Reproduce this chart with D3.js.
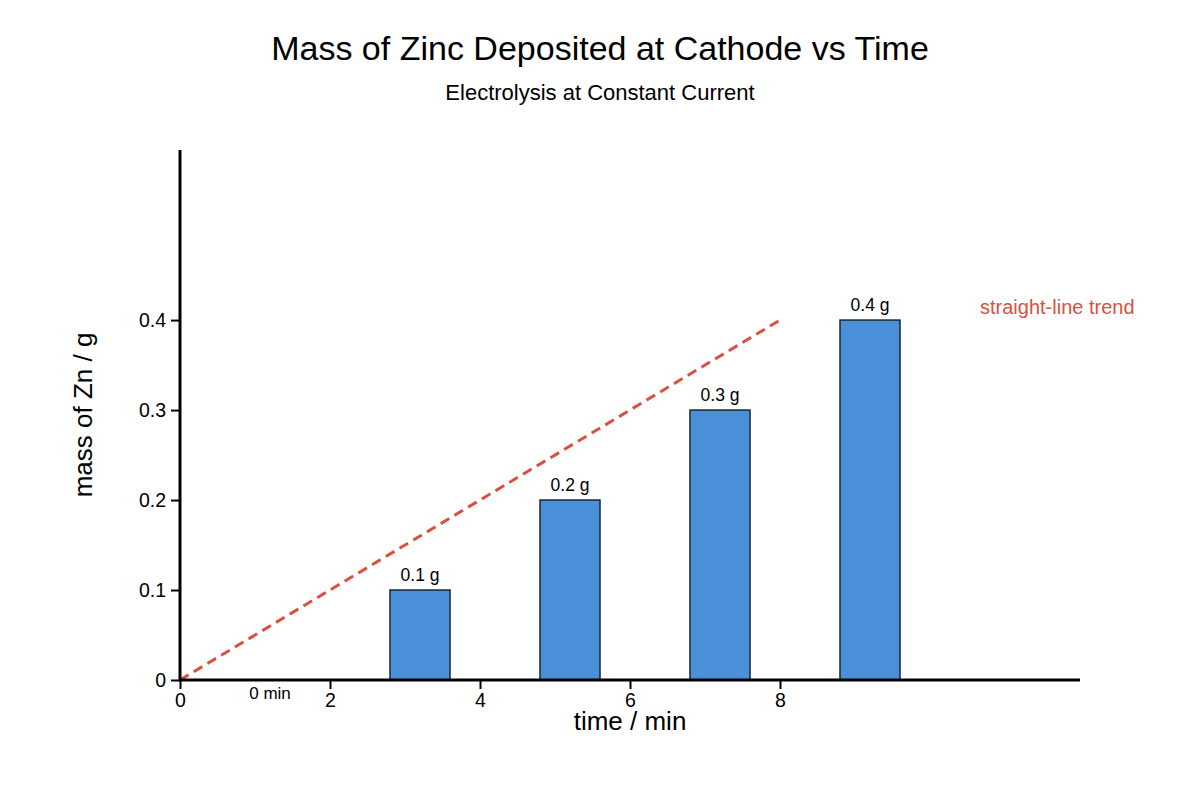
<!DOCTYPE html>
<html>
<head>
<meta charset="utf-8">
<script src="https://cdn.jsdelivr.net/npm/d3@7"></script>
<style>
  body { margin: 0; background: #fff; }
  svg { font-family: "Liberation Sans", Arial, sans-serif; }
</style>
</head>
<body>
<div id="chart"></div>
<script>
// Data
const categories = ['0 min', '2 min', '4 min', '6 min', '8 min'];
const massValues = [0, 0.1, 0.2, 0.3, 0.4];
const barLabels = ['', '0.1 g', '0.2 g', '0.3 g', '0.4 g'];
const xTicks = [0, 2, 4, 6, 8];
const yTicks = [0, 0.1, 0.2, 0.3, 0.4];
const trendTimes = [0, 8];
const trendMass = [0, 0.4];

const width = 1200;
const height = 800;
const margin = { top: 150, right: 120, bottom: 120, left: 180 };
const innerW = width - margin.left - margin.right;
const innerH = height - margin.top - margin.bottom;

const svg = d3.select('#chart')
  .append('svg')
  .attr('width', width)
  .attr('height', height);

// Titles
svg.append('text')
  .attr('x', width / 2)
  .attr('y', 60)
  .attr('text-anchor', 'middle')
  .style('font-size', '34px')
  .text('Mass of Zinc Deposited at Cathode vs Time');

svg.append('text')
  .attr('x', width / 2)
  .attr('y', 100)
  .attr('text-anchor', 'middle')
  .style('font-size', '22px')
  .text('Electrolysis at Constant Current');

const g = svg.append('g')
  .attr('transform', `translate(${margin.left},${margin.top})`);

// Scales
const x = d3.scaleLinear().domain([0, 12]).range([0, innerW]);
const y = d3.scaleLinear().domain([0, 0.589]).range([innerH, 0]);
const xBand = d3.scaleBand()
  .domain(categories)
  .range([0, innerW])
  .paddingInner(0.6)
  .paddingOuter(0.8)
  .align(0.25);

// Bars
g.selectAll('.bar')
  .data(massValues)
  .enter()
  .append('rect')
  .attr('class', 'bar')
  .attr('x', (d, i) => xBand(categories[i]))
  .attr('y', d => y(d))
  .attr('width', xBand.bandwidth())
  .attr('height', d => innerH - y(d))
  .attr('fill', '#4a90d9')
  .attr('stroke', '#1a2633')
  .attr('stroke-width', 1.5)
  .style('display', d => d > 0 ? null : 'none');

// Bar value labels
g.selectAll('.bar-label')
  .data(massValues)
  .enter()
  .append('text')
  .attr('class', 'bar-label')
  .attr('x', (d, i) => xBand(categories[i]) + xBand.bandwidth() / 2)
  .attr('y', d => y(d) - 9)
  .attr('text-anchor', 'middle')
  .style('font-size', '17.5px')
  .text((d, i) => barLabels[i]);

// First category label under the axis
g.append('text')
  .attr('x', xBand(categories[0]) + xBand.bandwidth() / 2)
  .attr('y', innerH + 19)
  .attr('text-anchor', 'middle')
  .style('font-size', '17px')
  .text(categories[0]);

// Trend line
const line = d3.line()
  .x(d => x(d[0]))
  .y(d => y(d[1]));

g.append('path')
  .datum(trendTimes.map((t, i) => [t, trendMass[i]]))
  .attr('d', line)
  .attr('fill', 'none')
  .attr('stroke', '#d9503f')
  .attr('stroke-width', 3)
  .attr('stroke-dasharray', '10,6');

g.append('text')
  .attr('x', 800)
  .attr('y', y(0.4) - 6)
  .attr('fill', '#d9503f')
  .style('font-size', '20px')
  .text('straight-line trend');

// Axes (domain lines drawn separately so the ends stay clean)
const xAxis = g.append('g')
  .attr('transform', `translate(0,${innerH})`)
  .call(d3.axisBottom(x).tickValues(xTicks).tickFormat(d3.format('d')).tickSizeOuter(0).tickSize(9).tickPadding(4));

const yAxis = g.append('g')
  .call(d3.axisLeft(y).tickValues(yTicks).tickFormat(d => d === 0 ? '0' : d3.format('.1f')(d)).tickSizeOuter(0).tickSize(9).tickPadding(5));

[xAxis, yAxis].forEach(ax => {
  ax.select('.domain').remove();
  ax.selectAll('.tick line').attr('stroke', '#000').attr('stroke-width', 2);
  ax.selectAll('.tick text')
    .attr('fill', '#000')
    .style('font-size', '19.5px')
    .style('font-family', '"Liberation Sans", Arial, sans-serif');
});

g.append('line')
  .attr('x1', x.range()[0]).attr('x2', x.range()[1])
  .attr('y1', y(0)).attr('y2', y(0))
  .attr('stroke', '#000').attr('stroke-width', 3);

g.append('line')
  .attr('x1', x(0)).attr('x2', x(0))
  .attr('y1', y.range()[0] + 1.5).attr('y2', y.range()[1])
  .attr('stroke', '#000').attr('stroke-width', 3);

// Axis titles
svg.append('text')
  .attr('x', margin.left + innerW / 2)
  .attr('y', 730)
  .attr('text-anchor', 'middle')
  .style('font-size', '26px')
  .text('time / min');

svg.append('text')
  .attr('transform', `translate(92,${margin.top + innerH / 2}) rotate(-90)`)
  .attr('text-anchor', 'middle')
  .style('font-size', '26px')
  .text('mass of Zn / g');
</script>
</body>
</html>
